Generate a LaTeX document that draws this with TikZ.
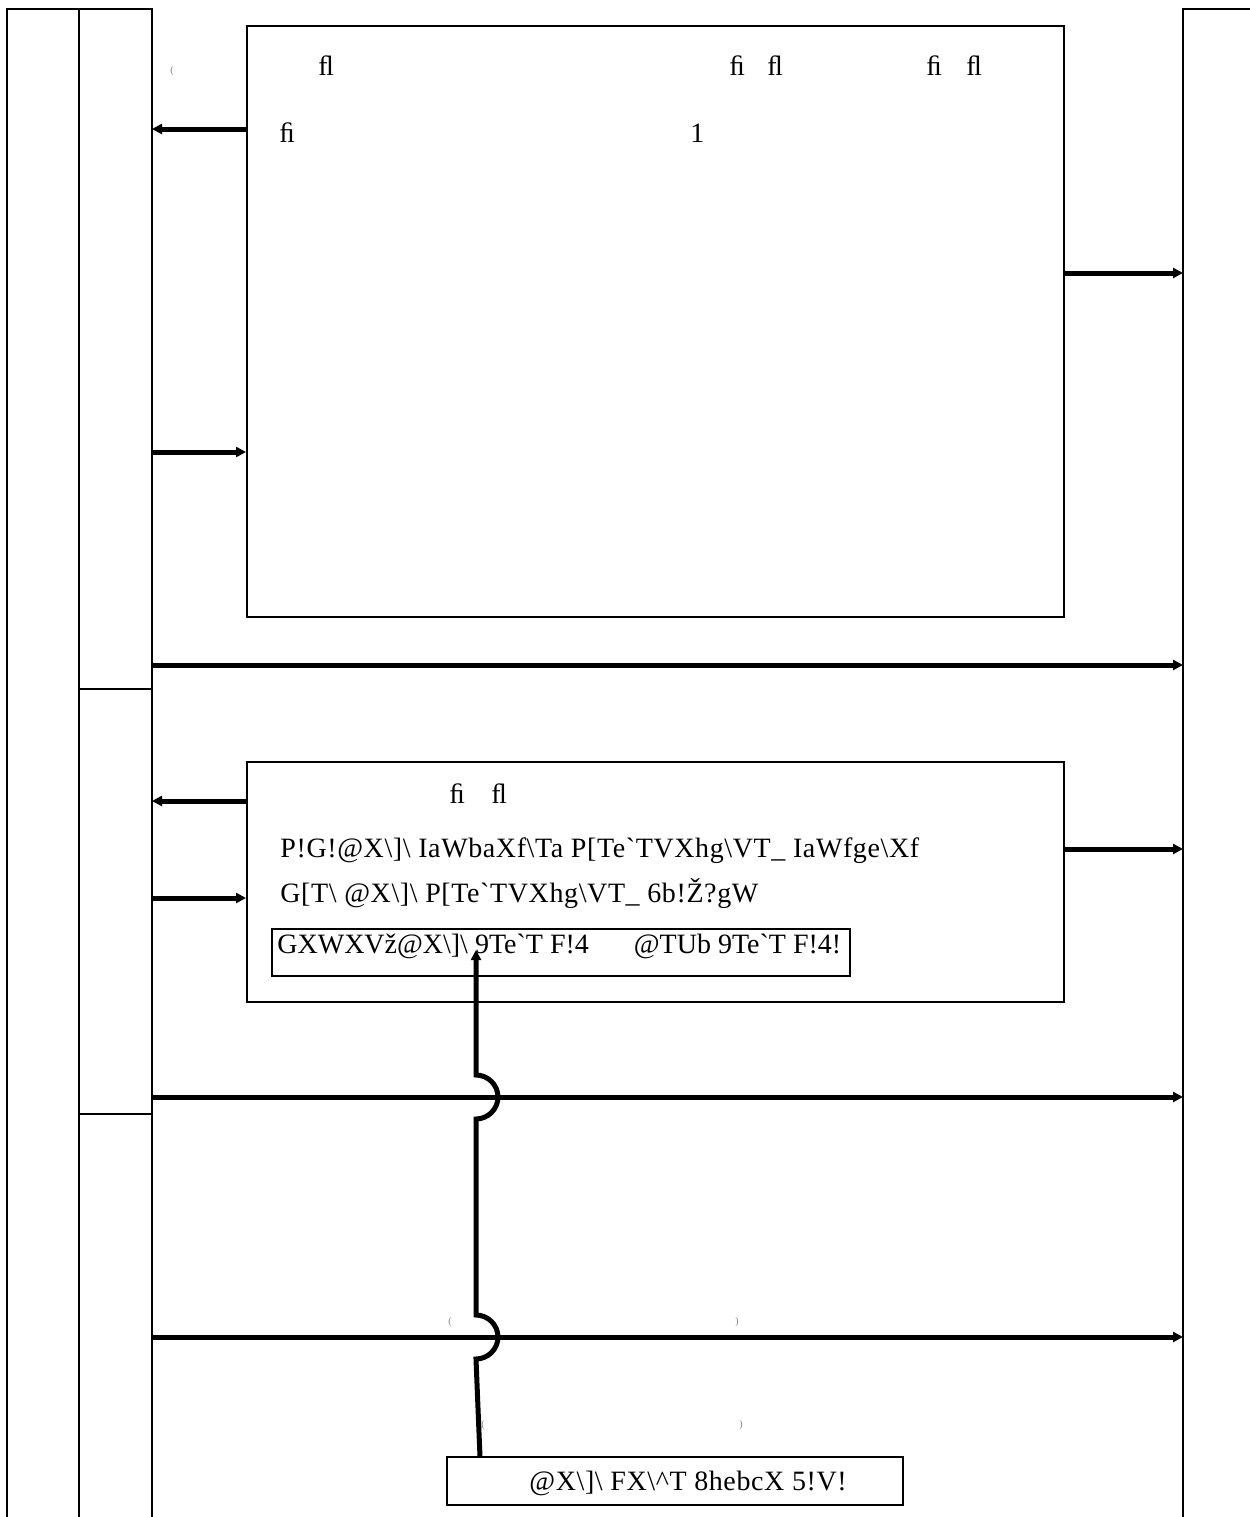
\documentclass[tikz,border=0pt]{standalone}
\usepackage{fontspec}
\newfontfamily\gfont{Liberation Serif}
\newfontfamily\gfontls{Liberation Serif}[LetterSpace=2.2]
\usetikzlibrary{arrows.meta}
\newcommand\Bk{\textbackslash}
\begin{document}
\begin{tikzpicture}[x=0.5pt,y=-0.5pt,
  thinl/.style={line width=1pt,line cap=rect},
  boxstyle/.style={draw,line width=1pt,inner sep=0pt,minimum width=#1},
  txt/.style={inner sep=0pt,anchor=base west,font=\gfont\fontsize{14pt}{16pt}\selectfont},
  stxt/.style={inner sep=0pt,anchor=base west,font=\gfontls\fontsize{14pt}{16pt}\selectfont},
  tiny/.style={inner sep=0pt,text=gray,font=\gfont\fontsize{5pt}{6pt}\selectfont},
  arr/.style={line width=2.5pt,-{Triangle[length=5pt,width=5pt]}},
  conn/.style={line width=2.5pt}]
\useasboundingbox (0,0) rectangle (1249,1517);
% columns
\draw[thinl] (7,1517) -- (7,9) -- (152,9) -- (152,1517);
\draw[thinl] (79,9) -- (79,1517);
\draw[thinl] (79,689) -- (152,689);
\draw[thinl] (79,1114) -- (152,1114);
\draw[thinl] (1183,1517) -- (1183,9) -- (1249,9);
% boxes
\node[boxstyle=408.5pt,minimum height=295.5pt] (b1) at (655.5,321.5) {};
\node[boxstyle=408.5pt,minimum height=120pt] (b2) at (655.5,882) {};
\node[boxstyle=289pt,minimum height=23.5pt] (ib) at (561,952) {};
\node[boxstyle=228pt,minimum height=24pt] (bb) at (675,1481) {};
% texts box 1
\node[txt] (t1) at (318,75) {ﬂ};
\node[txt] (t2) at (729,75) {ﬁ};
\node[txt] (t3) at (767,75) {ﬂ};
\node[txt] (t4) at (926,75) {ﬁ};
\node[txt] (t5) at (966,75) {ﬂ};
\node[txt] (t6) at (279,142) {ﬁ};
\node[txt] (t7) at (690,142) {1};
% texts box 2
\node[txt] (u1) at (449,803) {ﬁ};
\node[txt] (u2) at (491,803) {ﬂ};
\node[stxt] (u3) at (280,857) {P!G!@X\Bk]\Bk{} IaWbaXf\Bk Ta P[Te`TVXhg\Bk VT\_ IaWfge\Bk Xf};
\node[stxt] (u4) at (280,902) {G[T\Bk{} @X\Bk]\Bk{} P[Te`TVXhg\Bk VT\_ 6b!Ž?gW};
\node[txt] (u5) at (277,953) {GXWXVž@X\Bk]\Bk{} 9Te`T F!4\hspace{22.5pt}@TUb 9Te`T F!4!};
\node[stxt] (u6) at (529,1490) {@X\Bk]\Bk{} FX\Bk\textasciicircum T 8hebcX 5!V!};
% tiny marks
\node[tiny] (m1) at (172,71) {(};
\node[tiny] (m2) at (450,1322) {(};
\node[tiny] (m3) at (737,1322) {)};
\node[tiny] (m4) at (483,1425) {(};
\node[tiny] (m5) at (741,1425) {)};
% column coordinates
\coordinate (cA) at (152,129);
\coordinate (cB) at (152,452);
\coordinate (cC) at (1183,273);
\coordinate (cD1) at (152,665);
\coordinate (cD2) at (1183,665);
\coordinate (cE) at (152,801);
\coordinate (cF) at (152,898);
\coordinate (cG) at (1183,849);
\coordinate (cH1) at (152,1097);
\coordinate (cH2) at (1183,1097);
\coordinate (cI1) at (152,1337);
\coordinate (cI2) at (1183,1337);
% arrows
\draw[arr] (b1.west |- cA) -- (cA);
\draw[arr] (cB) -- (b1.west |- cB);
\draw[arr] (b1.east |- cC) -- (cC);
\draw[arr] (cD1) -- (cD2);
\draw[arr] (b2.west |- cE) -- (cE);
\draw[arr] (cF) -- (b2.west |- cF);
\draw[arr] (b2.east |- cG) -- (cG);
\draw[arr] (cH1) -- (cH2);
\draw[arr] (cI1) -- (cI2);
% vertical connector with hops
\coordinate (v0) at (480,1457);
\coordinate (vtip) at (476,950);
\draw[conn,-{Triangle[length=5pt,width=5pt]}] (v0) -- (476,1359)
  .. controls (488,1359) and (498,1349) .. (498,1337)
  .. controls (498,1325) and (488,1315) .. (476,1315)
  -- (476,1119)
  .. controls (488,1119) and (498,1109) .. (498,1097)
  .. controls (498,1085) and (488,1075) .. (476,1075)
  -- (vtip);
\end{tikzpicture}
\end{document}
